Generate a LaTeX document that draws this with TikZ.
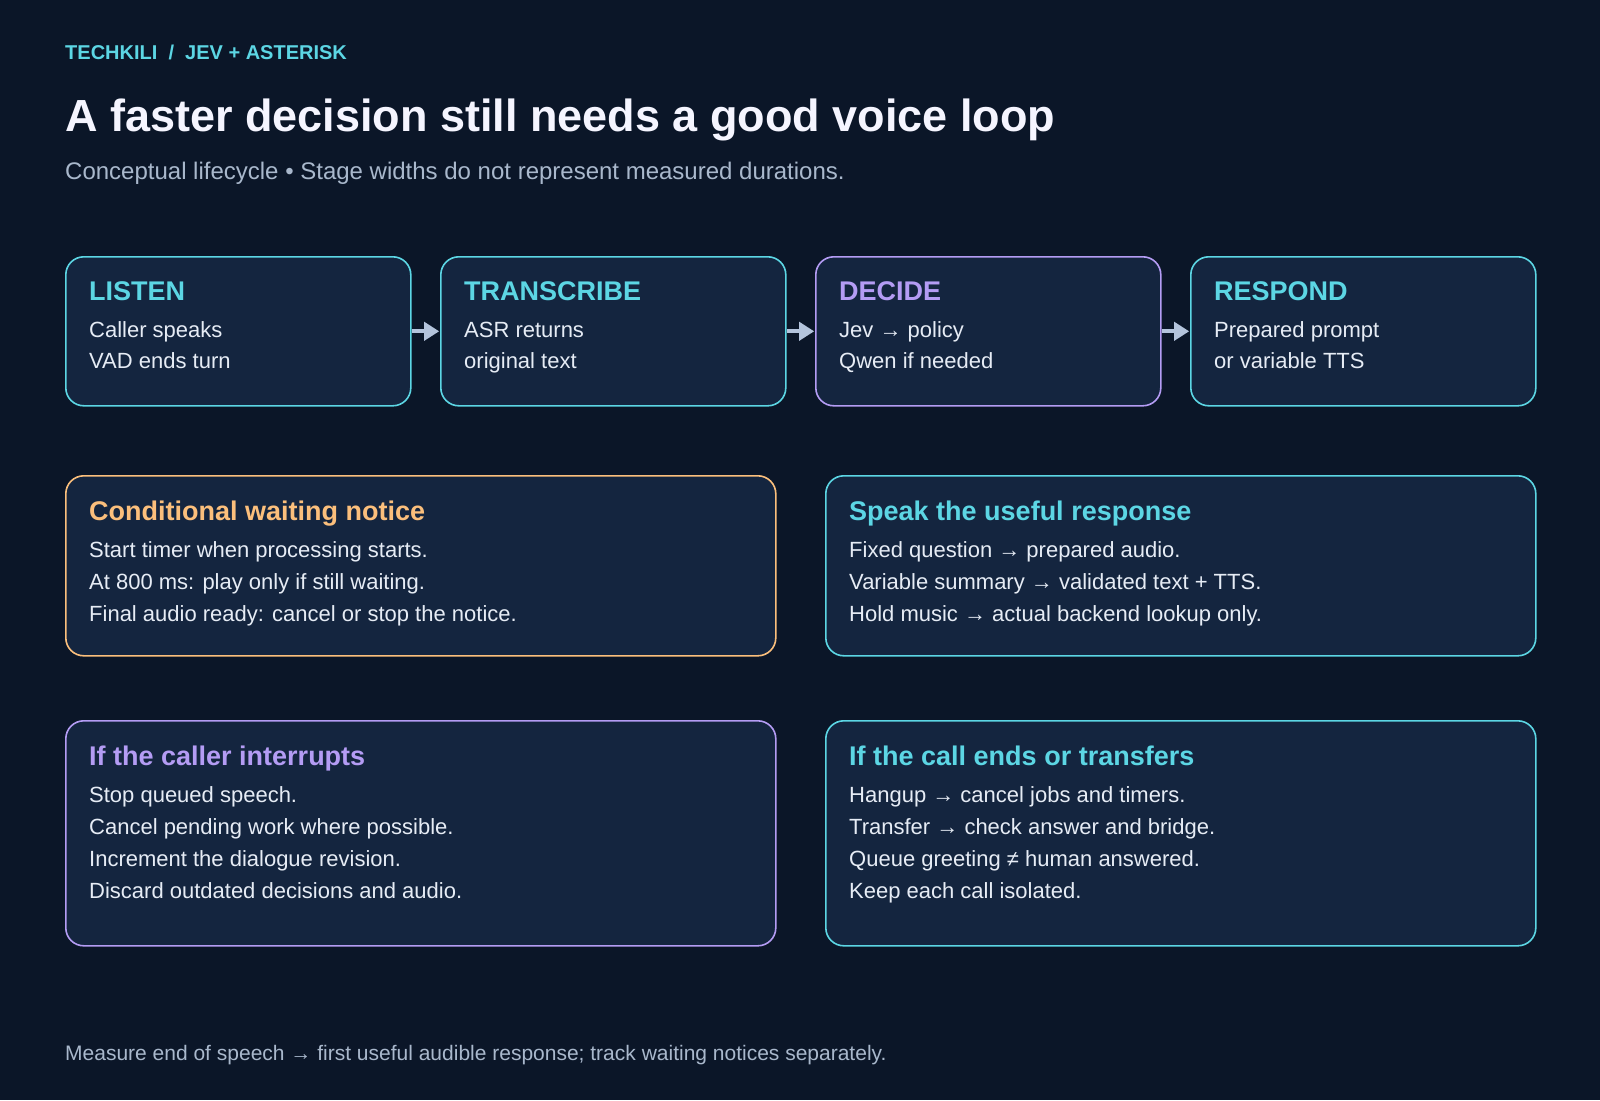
\documentclass[tikz,border=0pt]{standalone}
\usepackage{fontspec}
\setmainfont{Liberation Sans}
\usetikzlibrary{arrows.meta}
\definecolor{bgc}{HTML}{0B1628}
\definecolor{boxfill}{HTML}{14253F}
\definecolor{cyanc}{HTML}{5CD6E4}
\definecolor{purplec}{HTML}{B49CF4}
\definecolor{orangec}{HTML}{FBBF7C}
\definecolor{bodyc}{HTML}{E6ECF5}
\definecolor{mutedc}{HTML}{A9B8CC}
\definecolor{arrowc}{HTML}{B4C4DC}
\tikzset{
  card/.style={draw=#1, line width=1.6pt, fill=boxfill, rounded corners=18pt, anchor=north west, inner sep=0pt},
  ttl/.style={anchor=base west, inner sep=0pt, text=#1, font=\fontsize{27}{31}\selectfont\bfseries},
  body/.style={anchor=base west, inner sep=0pt, text=bodyc, font=\fontsize{22}{26}\selectfont},
  flow/.style={draw=arrowc, line width=4pt, -{Triangle[length=15pt,width=18pt]}, shorten <=0.8pt, shorten >=0.8pt}
}
\begin{document}
\begin{tikzpicture}[x=1pt,y=-1pt]
\fill[bgc] (0,0) rectangle (1600,1100);
\useasboundingbox (0,0) rectangle (1600,1100);

% header
\node[anchor=base west, inner sep=0pt, text=cyanc, font=\fontsize{20}{24}\selectfont\bfseries] (kicker) at (65,59) {TECHKILI\ \ /\ \ JEV + ASTERISK};
\node[anchor=base west, inner sep=0pt, text=white!96!blue, font=\fontsize{45}{50}\selectfont\bfseries] (title) at (65,131) {A faster decision still needs a good voice loop};
\node[anchor=base west, inner sep=0pt, text=mutedc, font=\fontsize{24}{28}\selectfont] (subtitle) at (65,179.3) {Conceptual lifecycle • Stage widths do not represent measured durations.};

% stage cards
\node[card=cyanc, minimum width=345pt, minimum height=149pt] (listen) at (65,256) {};
\node[card=cyanc, minimum width=345pt, minimum height=149pt] (transcribe) at (440,256) {};
\node[card=purplec, minimum width=345pt, minimum height=149pt] (decide) at (815,256) {};
\node[card=cyanc, minimum width=345pt, minimum height=149pt] (respond) at (1190,256) {};

\draw[flow] (listen.east) -- (transcribe.west);
\draw[flow] (transcribe.east) -- (decide.west);
\draw[flow] (decide.east) -- (respond.west);

\node[ttl=cyanc] (t1) at (89,300) {LISTEN};
\node[body] (l1a) at (89,337.3) {Caller speaks};
\node[body] (l1b) at (89,368.5) {VAD ends turn};

\node[ttl=cyanc] (t2) at (464,300) {TRANSCRIBE};
\node[body] (l2a) at (464,337.3) {ASR returns};
\node[body] (l2b) at (464,368.5) {original text};

\node[ttl=purplec] (t3) at (839,300) {DECIDE};
\node[body] (l3a) at (839,337.3) {Jev → policy};
\node[body] (l3b) at (839,368.5) {Qwen if needed};

\node[ttl=cyanc] (t4) at (1214,300) {RESPOND};
\node[body] (l4a) at (1214,337.3) {Prepared prompt};
\node[body] (l4b) at (1214,368.5) {or variable TTS};

% middle cards
\node[card=orangec, minimum width=710pt, minimum height=180pt] (wait) at (65,475) {};
\node[ttl=orangec] (wt) at (89,520) {Conditional waiting notice};
\node[body] (w1) at (89,557.7) {Start timer when processing starts.};
\node[body] (w2) at (89,589.4) {At 800 ms: play only if still waiting.};
\node[body] (w3) at (89,621.1) {Final audio ready: cancel or stop the notice.};

\node[card=cyanc, minimum width=710pt, minimum height=180pt] (speak) at (825,475) {};
\node[ttl=cyanc] (st) at (849,520) {Speak the useful response};
\node[body] (s1) at (849,557.7) {Fixed question → prepared audio.};
\node[body] (s2) at (849,589.4) {Variable summary → validated text + TTS.};
\node[body] (s3) at (849,621.1) {Hold music → actual backend lookup only.};

% bottom cards
\node[card=purplec, minimum width=710pt, minimum height=225pt] (interrupt) at (65,720) {};
\node[ttl=purplec] (it) at (89,765) {If the caller interrupts};
\node[body] (i1) at (89,802) {Stop queued speech.};
\node[body] (i2) at (89,834.2) {Cancel pending work where possible.};
\node[body] (i3) at (89,866.4) {Increment the dialogue revision.};
\node[body] (i4) at (89,898.6) {Discard outdated decisions and audio.};

\node[card=cyanc, minimum width=710pt, minimum height=225pt] (ends) at (825,720) {};
\node[ttl=cyanc] (et) at (849,765) {If the call ends or transfers};
\node[body] (e1) at (849,802) {Hangup → cancel jobs and timers.};
\node[body] (e2) at (849,834.2) {Transfer → check answer and bridge.};
\node[body] (e3) at (849,866.4) {Queue greeting ≠ human answered.};
\node[body] (e4) at (849,898.6) {Keep each call isolated.};

% footer
\node[anchor=base west, inner sep=0pt, text=mutedc, font=\fontsize{21}{25}\selectfont] (footer) at (65,1060) {Measure end of speech → first useful audible response; track waiting notices separately.};
\end{tikzpicture}
\end{document}
